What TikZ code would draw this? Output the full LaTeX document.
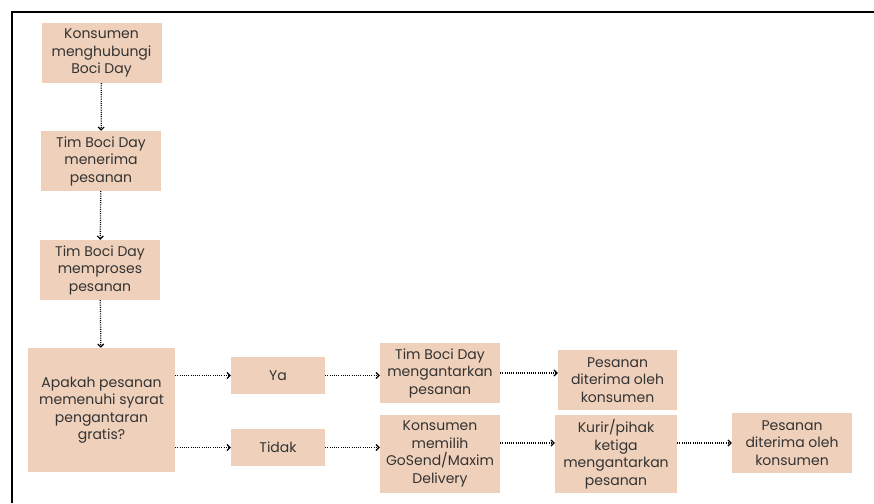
\documentclass[tikz,border=0pt]{standalone}
\usepackage{fontspec}
\setmainfont{Poppins}
\usetikzlibrary{arrows.meta, calc}
\definecolor{boxColor}{RGB}{239, 208, 186}
\tikzstyle{process} = [rectangle, minimum width=120pt, minimum height=60pt, inner sep=0pt, align=center, fill=boxColor, font=\fontsize{14}{17.5}\selectfont, text=black!80]
\tikzstyle{flow} = [line width=1.3pt, dash pattern=on 1pt off 1.2pt, -{Straight Barb[length=3pt, width=6pt, line width=1.2pt]}]

\begin{document}
\begin{tikzpicture}[x=1pt, y=-1pt]
				\useasboundingbox (0,0) rectangle (874,503);
				\draw[line width=2.5pt] (12,503) -- (12,12) -- (874,12);

				\node (hubungi) [process] at (101.5,53) {Konsumen\\menghubungi\\Boci Day};
				\node (terima) [process] at (101,161) {Tim Boci Day\\menerima\\pesanan};
				\node (proses) [process] at (100,270) {Tim Boci Day\\memproses\\pesanan};
				\node (syarat) [process, minimum width=147pt, minimum height=124pt] at (101.5,410) {Apakah pesanan\\memenuhi syarat\\pengantaran\\gratis?};
				\node (ya) [process, minimum width=94pt, minimum height=37pt] at (278,375.5) {Ya};
				\node (tidak) [process, minimum width=94pt, minimum height=37pt] at (278,447.5) {Tidak};
				\node (antar) [process] at (440,373) {Tim Boci Day\\mengantarkan\\pesanan};
				\node (pilih) [process, minimum height=78pt] at (440,454) {Konsumen\\memilih\\GoSend/Maxim\\Delivery};
				\node (selesai) [process, minimum width=119pt] at (617.5,380) {Pesanan\\diterima oleh\\konsumen};
				\node (kurir) [process, minimum width=122pt, minimum height=78pt] at (616,454) {Kurir/pihak\\ketiga\\mengantarkan\\pesanan};
				\node (selesai2) [process] at (792,443) {Pesanan\\diterima oleh\\konsumen};
				\coordinate (pk) at ($(pilih.east)+(0,-11)$);

				\draw[flow] (hubungi) -- (terima);
				\draw[flow] (terima) -- (proses);
				\draw[flow] (proses) -- (syarat);
				\draw[flow] (ya -| syarat.east) -- (ya);
				\draw[flow] (tidak -| syarat.east) -- (tidak);
				\draw[flow] (ya) -- (ya -| antar.west);
				\draw[flow] (antar) -- (antar -| selesai.west);
				\draw[flow] (tidak) -- (tidak -| pilih.west);
				\draw[flow] (pk) -- (pk -| kurir.west);
				\draw[flow] (selesai2 -| kurir.east) -- (selesai2);
			\end{tikzpicture}
\end{document}
